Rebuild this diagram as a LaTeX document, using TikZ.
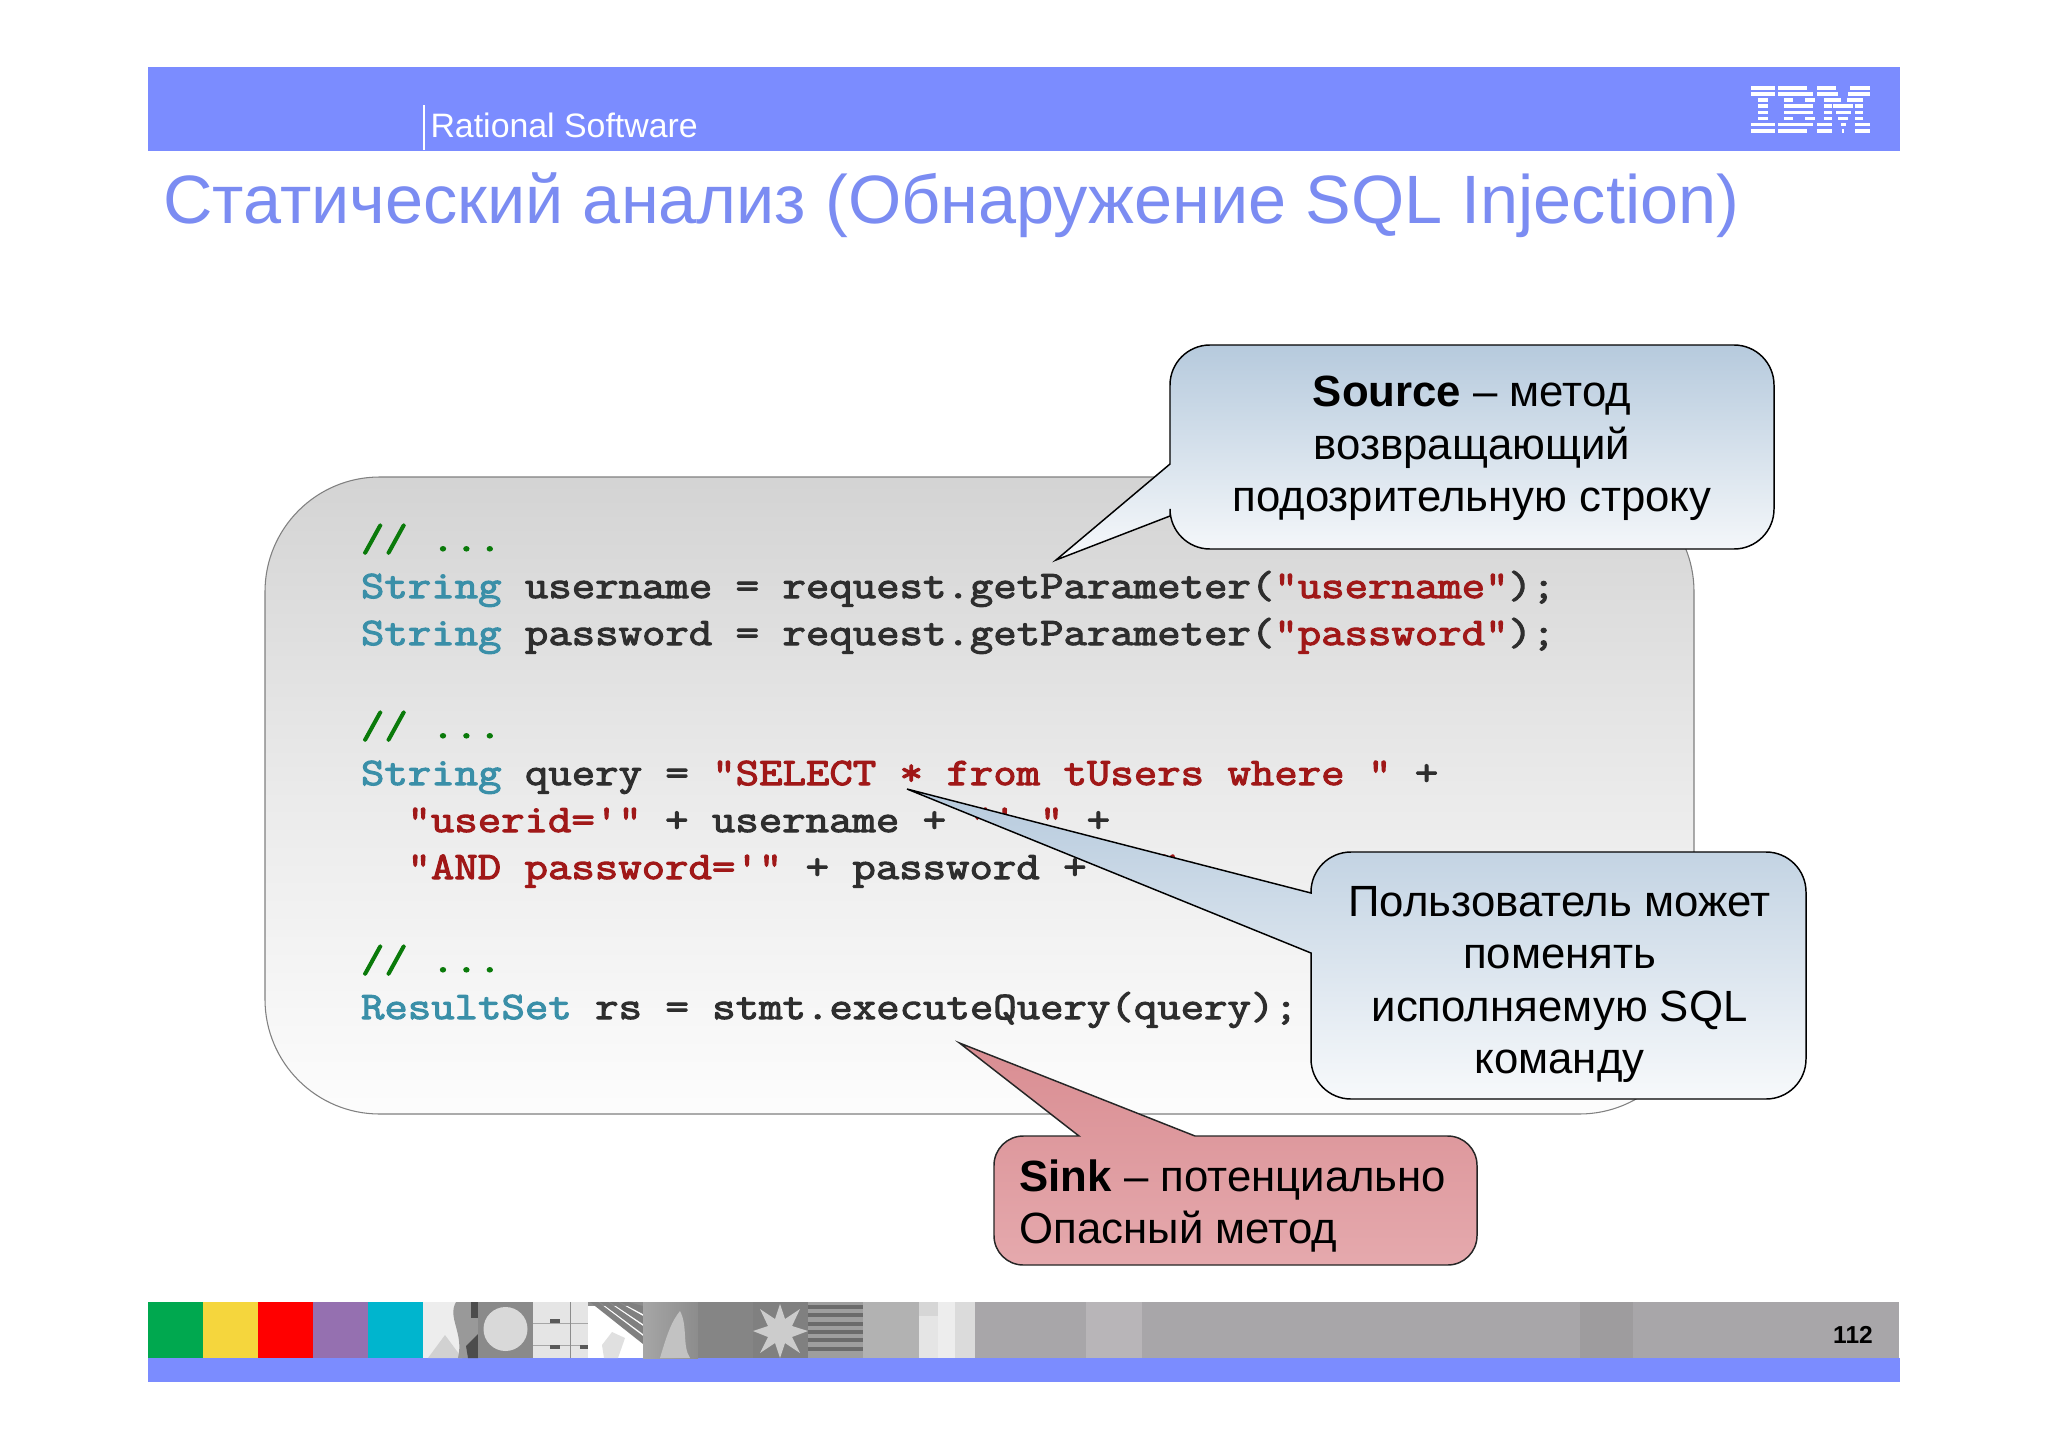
\documentclass[tikz,border=0pt]{standalone}
\usepackage{fontspec}
\setmainfont{Liberation Sans}
\newfontfamily\codefont[FakeStretch=1.168,FakeBold=2.8]{Latin Modern Mono}
\usetikzlibrary{shadings}
\definecolor{ibmblue}{HTML}{7B8CFF}
\definecolor{titleblue}{HTML}{7B8CF2}
\definecolor{kwteal}{HTML}{3A8FA8}
\definecolor{strred}{HTML}{A01818}
\definecolor{cmtgreen}{HTML}{0A7A0A}
\definecolor{codeink}{HTML}{2E2E2E}
\definecolor{calltop}{HTML}{B6CADD}
\definecolor{callbot}{HTML}{F7F9FB}
\definecolor{pinktop}{HTML}{D98D92}
\definecolor{pinkbot}{HTML}{E5A9AD}
\definecolor{fgreen}{HTML}{00A84F}
\definecolor{fyellow}{HTML}{F5D63D}
\definecolor{fred}{HTML}{FF0000}
\definecolor{fpurple}{HTML}{9570B0}
\definecolor{fcyan}{HTML}{00B5CE}
\definecolor{fgrey}{HTML}{A8A6A9}
\definecolor{flight}{HTML}{B8B5B8}
\definecolor{fdark}{HTML}{9E9C9E}
\newcommand{\kw}[1]{\textcolor{kwteal}{#1}}
\newcommand{\strg}[1]{\textcolor{strred}{#1}}
\newcommand{\cmt}[1]{\textcolor{cmtgreen}{#1}}
\tikzset{
  codeline/.style={anchor=base west,inner sep=0pt,outer sep=0pt,text=codeink,font=\codefont\fontsize{14.6}{14.6}\selectfont},
  calltext/.style={anchor=base,inner sep=0pt,text=black,font=\fontsize{16.4}{16.4}\selectfont},
  calltextl/.style={calltext,anchor=base west},
  bluecall/.style={top color=calltop,bottom color=callbot,draw=black,line width=0.55pt},
  pinkcall/.style={top color=pinktop,bottom color=pinkbot,draw=black!85,line width=0.55pt},
}
\begin{document}
\begin{tikzpicture}[x=0.375pt,y=-0.375pt]
\useasboundingbox (0,0) rectangle (2048,1448);
\fill[white] (0,0) rectangle (2048,1448);
% header
\fill[ibmblue] (148,67) rectangle (1900,151);
\fill[white] (422.5,105) rectangle (424.5,150);
\node[anchor=base west,inner sep=0pt,text=white,font=\fontsize{12.7}{12.7}\selectfont] (rational) at (430,138) {Rational Software};
\node[anchor=base west,inner sep=0pt,text=titleblue,font=\fontsize{25.66}{25.66}\selectfont] (title) at (163,223) {Статический анализ (Обнаружение SQL Injection)};
% IBM logo, in zoom units
\begin{scope}[x=0.125pt,y=-0.125pt,shift={(618.75pt,-18.75pt)}]
\def\stripe#1#2#3{\fill[white] (#2,{108+18.4*(#1-1)}) rectangle (#3,{119+18.4*(#1-1)});}
\foreach \r/\a/\b in {1/303/375,2/303/375,3/323/355,4/323/355,5/323/355,6/323/355,7/303/375,8/303/375,
 1/383/470,2/383/490,3/403/430,3/465/495,4/403/490,5/403/490,6/403/430,6/465/495,7/383/490,8/383/470,
 1/500/558,1/600/660,2/500/565,2/595/660,3/522/572,3/590/640,4/522/545,4/550/610,4/615/640,5/522/545,5/558/602,5/615/640,6/522/545,6/565/595,6/615/640,7/500/545,7/572/588,7/615/660,8/500/545,8/577/583,8/615/660}{\stripe{\r}{\a}{\b}}
\end{scope}
% main code panel
\shade[top color=black!17,bottom color=white!99!black,middle color=black!8,draw=black!50,line width=0.4pt,rounded corners=43pt] (265,477) rectangle (1694,1114);
% code
\node[codeline] (l1) at (361,551) {\cmt{// ...}};
\node[codeline] (l2) at (361,598) {\kw{String} username = request.getParameter(\strg{"username"});};
\node[codeline] (l3) at (361,645) {\kw{String} password = request.getParameter(\strg{"password"});};
\node[codeline] (l5) at (361,738) {\cmt{// ...}};
\node[codeline] (l6) at (361,785) {\kw{String} query = \strg{"SELECT * from tUsers where "} +};
\node[codeline] (l7) at (407.5,832) {\strg{"userid='"} + username + \strg{"' "} +};
\node[codeline] (l8) at (407.5,879) {\strg{"AND password='"} + password + \strg{"'"};};
\node[codeline] (l10) at (361,972) {\cmt{// ...}};
\node[codeline] (l11) at (361,1019) {\kw{ResultSet} rs = stmt.executeQuery(query);};
% callouts
\shade[bluecall] (1170,464) [rounded corners=15pt] -- (1170,345) -- (1774,345) -- (1774,549) -- (1170,549) [sharp corners] -- (1170,516) -- (1056,560) -- cycle;
\node[calltext] (s1) at (1472,406.5) {\textbf{Source} – метод};
\node[calltext] (s2) at (1472,459.5) {возвращающий};
\node[calltext] (s3) at (1472,511.5) {подозрительную строку};
\shade[bluecall] (1311,893) [rounded corners=15pt] -- (1311,852) -- (1806,852) -- (1806,1099) -- (1311,1099) [sharp corners] -- (1311,953) -- (907,789) -- cycle;
\node[calltext] (u1) at (1559.5,916.5) {Пользователь может};
\node[calltext] (u2) at (1559.5,968.5) {поменять};
\node[calltext] (u3) at (1559.5,1021.5) {исполняемую SQL};
\node[calltext] (u4) at (1559.5,1073.5) {команду};
\shade[pinkcall] (1079,1136) [rounded corners=11pt] -- (994,1136) -- (994,1265) -- (1477,1265) -- (1477,1136) [sharp corners] -- (1195,1136) -- (959.5,1043) -- cycle;
\node[calltextl] (k1) at (1019,1191) {\textbf{Sink} – потенциально};
\node[calltextl] (k2) at (1019,1243.5) {Опасный метод};
% footer
\fill[ibmblue] (148,1358) rectangle (1900,1382);
\fill[fgrey] (148,1302) rectangle (1899,1358);
\fill[fgreen] (148,1302) rectangle (203,1358);
\fill[fyellow] (203,1302) rectangle (258,1358);
\fill[fred] (258,1302) rectangle (313,1358);
\fill[fpurple] (313,1302) rectangle (368,1358);
\fill[fcyan] (368,1302) rectangle (423,1358);
% photo cell 6
\begin{scope}
\clip (423,1302) rectangle (478,1358);
\fill[black!7] (423,1302) rectangle (478,1358);
\fill[black!18] (428,1358) -- (445,1335) -- (462,1358) -- cycle;
\fill[black!40] (456,1302) .. controls (447,1318) and (464,1332) .. (458,1358) -- (478,1358) -- (478,1302) -- cycle;
\fill[black!70] (471,1302) rectangle (478,1318);
\fill[black!70] (466,1346) -- (478,1334) -- (478,1358) -- (468,1358) -- cycle;
\end{scope}
% ellipse cell 7
\fill[black!46] (478,1302) rectangle (533,1358);
\fill[black!15] (505.5,1329) ellipse [x radius=22,y radius=22];
% filing cell 8
\fill[black!10] (533,1302) rectangle (588,1358);
\fill[black!35] (533,1323) rectangle (588,1323.8);
\fill[black!35] (533,1345) rectangle (588,1345.8);
\fill[black!45] (570,1302) rectangle (571,1358);
\fill[black!65] (550,1319) rectangle (560,1323);
\fill[black!65] (550,1345) rectangle (560,1349);
\fill[black!65] (580,1345) rectangle (588,1349);
% architecture cell 9
\begin{scope}
\clip (588,1302) rectangle (643,1358);
\fill[white] (588,1302) rectangle (643,1358);
\fill[black!45] (588,1302) rectangle (643,1306);
\foreach \d in {0,10,20,30}{\fill[black!50] (590+\d,1302) -- (598+\d,1302) -- (643,1336-\d) -- (643,1344-\d) -- cycle;}
\fill[black!12] (602,1345) -- (612,1332) -- (625,1338) -- (618,1358) -- (604,1358) -- cycle;
\end{scope}
% blur cell 10
\shade[left color=black!35,right color=black!45] (643,1302) rectangle (698,1358);
\fill[black!24] (660,1358) .. controls (668,1331) and (672,1321) .. (680,1311) .. controls (688,1326) and (682,1346) .. (690,1358) -- cycle;
% plain cell 11
\fill[black!48] (698,1302) rectangle (753,1358);
% star cell 12
\fill[black!50] (753,1302) rectangle (808,1358);
\fill[black!20] (780,1304) -- (785,1319) -- (800,1309) -- (792,1326) -- (808,1331) -- (792,1337) -- (800,1353) -- (785,1343) -- (780,1358) -- (775,1343) -- (760,1353) -- (768,1337) -- (753,1331) -- (768,1326) -- (760,1309) -- (775,1319) -- cycle;
% stripes cell 13
\fill[black!38] (808,1302) rectangle (863,1358);
\foreach \s in {0,1,2,3,4,5}{\fill[black!58] (808,{1305+8.3*\s}) rectangle (863,{1309+8.3*\s});}
% light cells
\fill[black!30] (863,1302) rectangle (919,1358);
\fill[black!10] (919,1302) rectangle (975,1358);
\fill[black!7] (938,1302) rectangle (955,1358);
\fill[black!16] (919,1302) rectangle (938,1316);
\fill[black!14] (955,1302) rectangle (975,1358);
\fill[flight] (1086,1302) rectangle (1142,1358);
\fill[fdark] (1580,1302) rectangle (1633,1358);
\node[anchor=base,inner sep=0pt,text=black,font=\bfseries\fontsize{9.2}{9.2}\selectfont] (pageno) at (1853,1343) {112};
\end{tikzpicture}
\end{document}
